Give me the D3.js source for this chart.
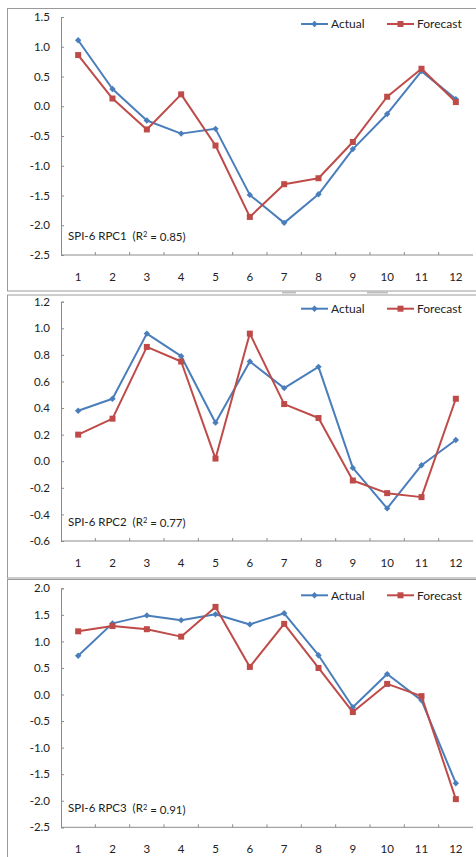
<!DOCTYPE html>
<html>
<head>
<meta charset="utf-8">
<script src="https://cdn.jsdelivr.net/npm/d3@7"></script>
<style>
  body { margin: 0; background: #fff; }
  svg text { font-family: Lato, "Open Sans", sans-serif; font-size: 11.5px; fill: #222; }
</style>
</head>
<body>
<svg id="chart" width="476" height="857"></svg>
<script>
// months on the x axis
const months = [1, 2, 3, 4, 5, 6, 7, 8, 9, 10, 11, 12]

// SPI-6 RPC1
const rpc1Actual = [1.11, 0.29, -0.24, -0.46, -0.38, -1.49, -1.96, -1.48, -0.72, -0.13, 0.59, 0.12]
const rpc1Forecast = [0.86, 0.13, -0.39, 0.20, -0.66, -1.86, -1.31, -1.21, -0.60, 0.16, 0.63, 0.07]
const rpc1Ticks = [1.5, 1.0, 0.5, 0.0, -0.5, -1.0, -1.5, -2.0, -2.5]

// SPI-6 RPC2
const rpc2Actual = [0.38, 0.47, 0.96, 0.79, 0.29, 0.75, 0.55, 0.71, -0.05, -0.355, -0.03, 0.16]
const rpc2Forecast = [0.20, 0.32, 0.86, 0.75, 0.02, 0.96, 0.43, 0.325, -0.145, -0.24, -0.27, 0.47]
const rpc2Ticks = [1.2, 1.0, 0.8, 0.6, 0.4, 0.2, 0.0, -0.2, -0.4, -0.6]

// SPI-6 RPC3
const rpc3Actual = [0.73, 1.34, 1.49, 1.40, 1.51, 1.32, 1.53, 0.74, -0.24, 0.385, -0.11, -1.67]
const rpc3Forecast = [1.19, 1.29, 1.23, 1.09, 1.65, 0.52, 1.33, 0.50, -0.33, 0.20, -0.03, -1.97]
const rpc3Ticks = [2.0, 1.5, 1.0, 0.5, 0.0, -0.5, -1.0, -1.5, -2.0, -2.5]

const blue = '#4a7ebb'
const red = '#be4b48'
const axisGray = '#8c8c8c'

const svg = d3.select('#chart')

// panel boxes (frame top/bottom, plot top/bottom)
const panels = [
    { frameTop: 8.5, frameBottom: 291, top: 17, bottom: 255, ticks: rpc1Ticks,
      actual: rpc1Actual, forecast: rpc1Forecast, name: 'SPI-6 RPC1', r2: '0.85' },
    { frameTop: 295, frameBottom: 578, top: 301.7, bottom: 541, ticks: rpc2Ticks,
      actual: rpc2Actual, forecast: rpc2Forecast, name: 'SPI-6 RPC2', r2: '0.77' },
    { frameTop: 579.5, frameBottom: 870, top: 588.3, bottom: 827.3, ticks: rpc3Ticks,
      actual: rpc3Actual, forecast: rpc3Forecast, name: 'SPI-6 RPC3', r2: '0.91' }
]

const plotLeft = 61
const plotRight = 473

const x = d3.scaleBand().domain(months).range([plotLeft, plotRight])

function drawPanel(p) {
    const g = svg.append('g')

    // chart frame
    g.append('rect')
        .attr('x', 7.5).attr('y', p.frameTop)
        .attr('width', 480).attr('height', p.frameBottom - p.frameTop)
        .attr('fill', 'none').attr('stroke', '#9a9a9a').attr('stroke-width', 1)

    const y = d3.scaleLinear()
        .domain([d3.min(p.ticks), d3.max(p.ticks)])
        .range([p.bottom, p.top])

    // y axis, ticks pointing inward
    const yAxis = g.append('g')
        .attr('transform', `translate(${plotLeft},0)`)
        .call(d3.axisLeft(y).tickValues(p.ticks).tickSizeInner(-3).tickSizeOuter(-3)
            .tickPadding(11).tickFormat(d3.format('.1f')))
    yAxis.select('.domain').attr('stroke', axisGray)
    yAxis.selectAll('.tick line').attr('stroke', axisGray)
    yAxis.selectAll('text').attr('font-family', null).attr('font-size', null)
        .text(d => d3.format('.1f')(d).replace('−', '-'))

    // x axis with ticks between categories pointing up
    const xAxis = g.append('g').attr('transform', `translate(0,${p.bottom})`)
    xAxis.append('line')
        .attr('x1', plotLeft).attr('x2', plotRight)
        .attr('stroke', axisGray)
    xAxis.selectAll('line.sep')
        .data(months.slice(1))
        .enter().append('line')
        .classed('sep', true)
        .attr('x1', d => x(d)).attr('x2', d => x(d))
        .attr('y1', 0).attr('y2', -3)
        .attr('stroke', axisGray)
    xAxis.selectAll('text')
        .data(months)
        .enter().append('text')
        .attr('x', d => x(d) + x.bandwidth() / 2)
        .attr('y', 22)
        .attr('dy', '0.35em')
        .attr('text-anchor', 'middle')
        .text(d => d)

    const cx = (d, i) => x(months[i]) + x.bandwidth() / 2
    const line = d3.line().x(cx).y(d => y(d))

    // Actual series with diamonds
    g.append('path').datum(p.actual)
        .attr('d', line).attr('fill', 'none')
        .attr('stroke', blue).attr('stroke-width', 2).attr('stroke-linejoin', 'round')
    g.selectAll('path.dia')
        .data(p.actual)
        .enter().append('path')
        .classed('dia', true)
        .attr('d', d3.symbol().type(d3.symbolDiamond2).size(26))
        .attr('transform', (d, i) => `translate(${cx(d, i)},${y(d)})`)
        .attr('fill', blue)

    // Forecast series with squares
    g.append('path').datum(p.forecast)
        .attr('d', line).attr('fill', 'none')
        .attr('stroke', red).attr('stroke-width', 2).attr('stroke-linejoin', 'round')
    g.selectAll('rect.sq')
        .data(p.forecast)
        .enter().append('rect')
        .classed('sq', true)
        .attr('x', (d, i) => cx(d, i) - 3).attr('y', d => y(d) - 3)
        .attr('width', 6).attr('height', 6)
        .attr('fill', red)

    // legend
    const ly = p.top + 7
    const leg = [
        { label: 'Actual', color: blue, x0: 301, square: false },
        { label: 'Forecast', color: red, x0: 387, square: true }
    ]
    leg.forEach(l => {
        g.append('line').attr('x1', l.x0).attr('x2', l.x0 + 27)
            .attr('y1', ly).attr('y2', ly)
            .attr('stroke', l.color).attr('stroke-width', 2)
        if (l.square) {
            g.append('rect').attr('x', l.x0 + 10.5).attr('y', ly - 3)
                .attr('width', 6).attr('height', 6).attr('fill', l.color)
        } else {
            g.append('path').attr('d', d3.symbol().type(d3.symbolDiamond2).size(26))
                .attr('transform', `translate(${l.x0 + 13.5},${ly})`).attr('fill', l.color)
        }
        g.append('text').attr('x', l.x0 + 30).attr('y', ly).attr('dy', '0.35em')
            .style('font-size', '12px').text(l.label)
    })

    // annotation
    const ann = g.append('text')
        .attr('x', 68).attr('y', p.bottom - 19).attr('dy', '0.35em')
        .style('font-size', '11.5px')
    ann.append('tspan').text(p.name + '\u00a0\u00a0(R')
    ann.append('tspan').attr('dy', '-0.35em').style('font-size', '7.5px').text('2')
    ann.append('tspan').attr('dy', '0.35em').text(' = ' + p.r2 + ')')
}

panels.forEach(drawPanel)

// little gray resize grips between panel 1 and 2
svg.selectAll('rect.grip')
    .data([[282, 296], [367, 388]])
    .enter().append('rect')
    .classed('grip', true)
    .attr('x', d => d[0]).attr('y', 291.5)
    .attr('width', d => d[1] - d[0]).attr('height', 2)
    .attr('fill', '#bdbdbd')
</script>
</body>
</html>
